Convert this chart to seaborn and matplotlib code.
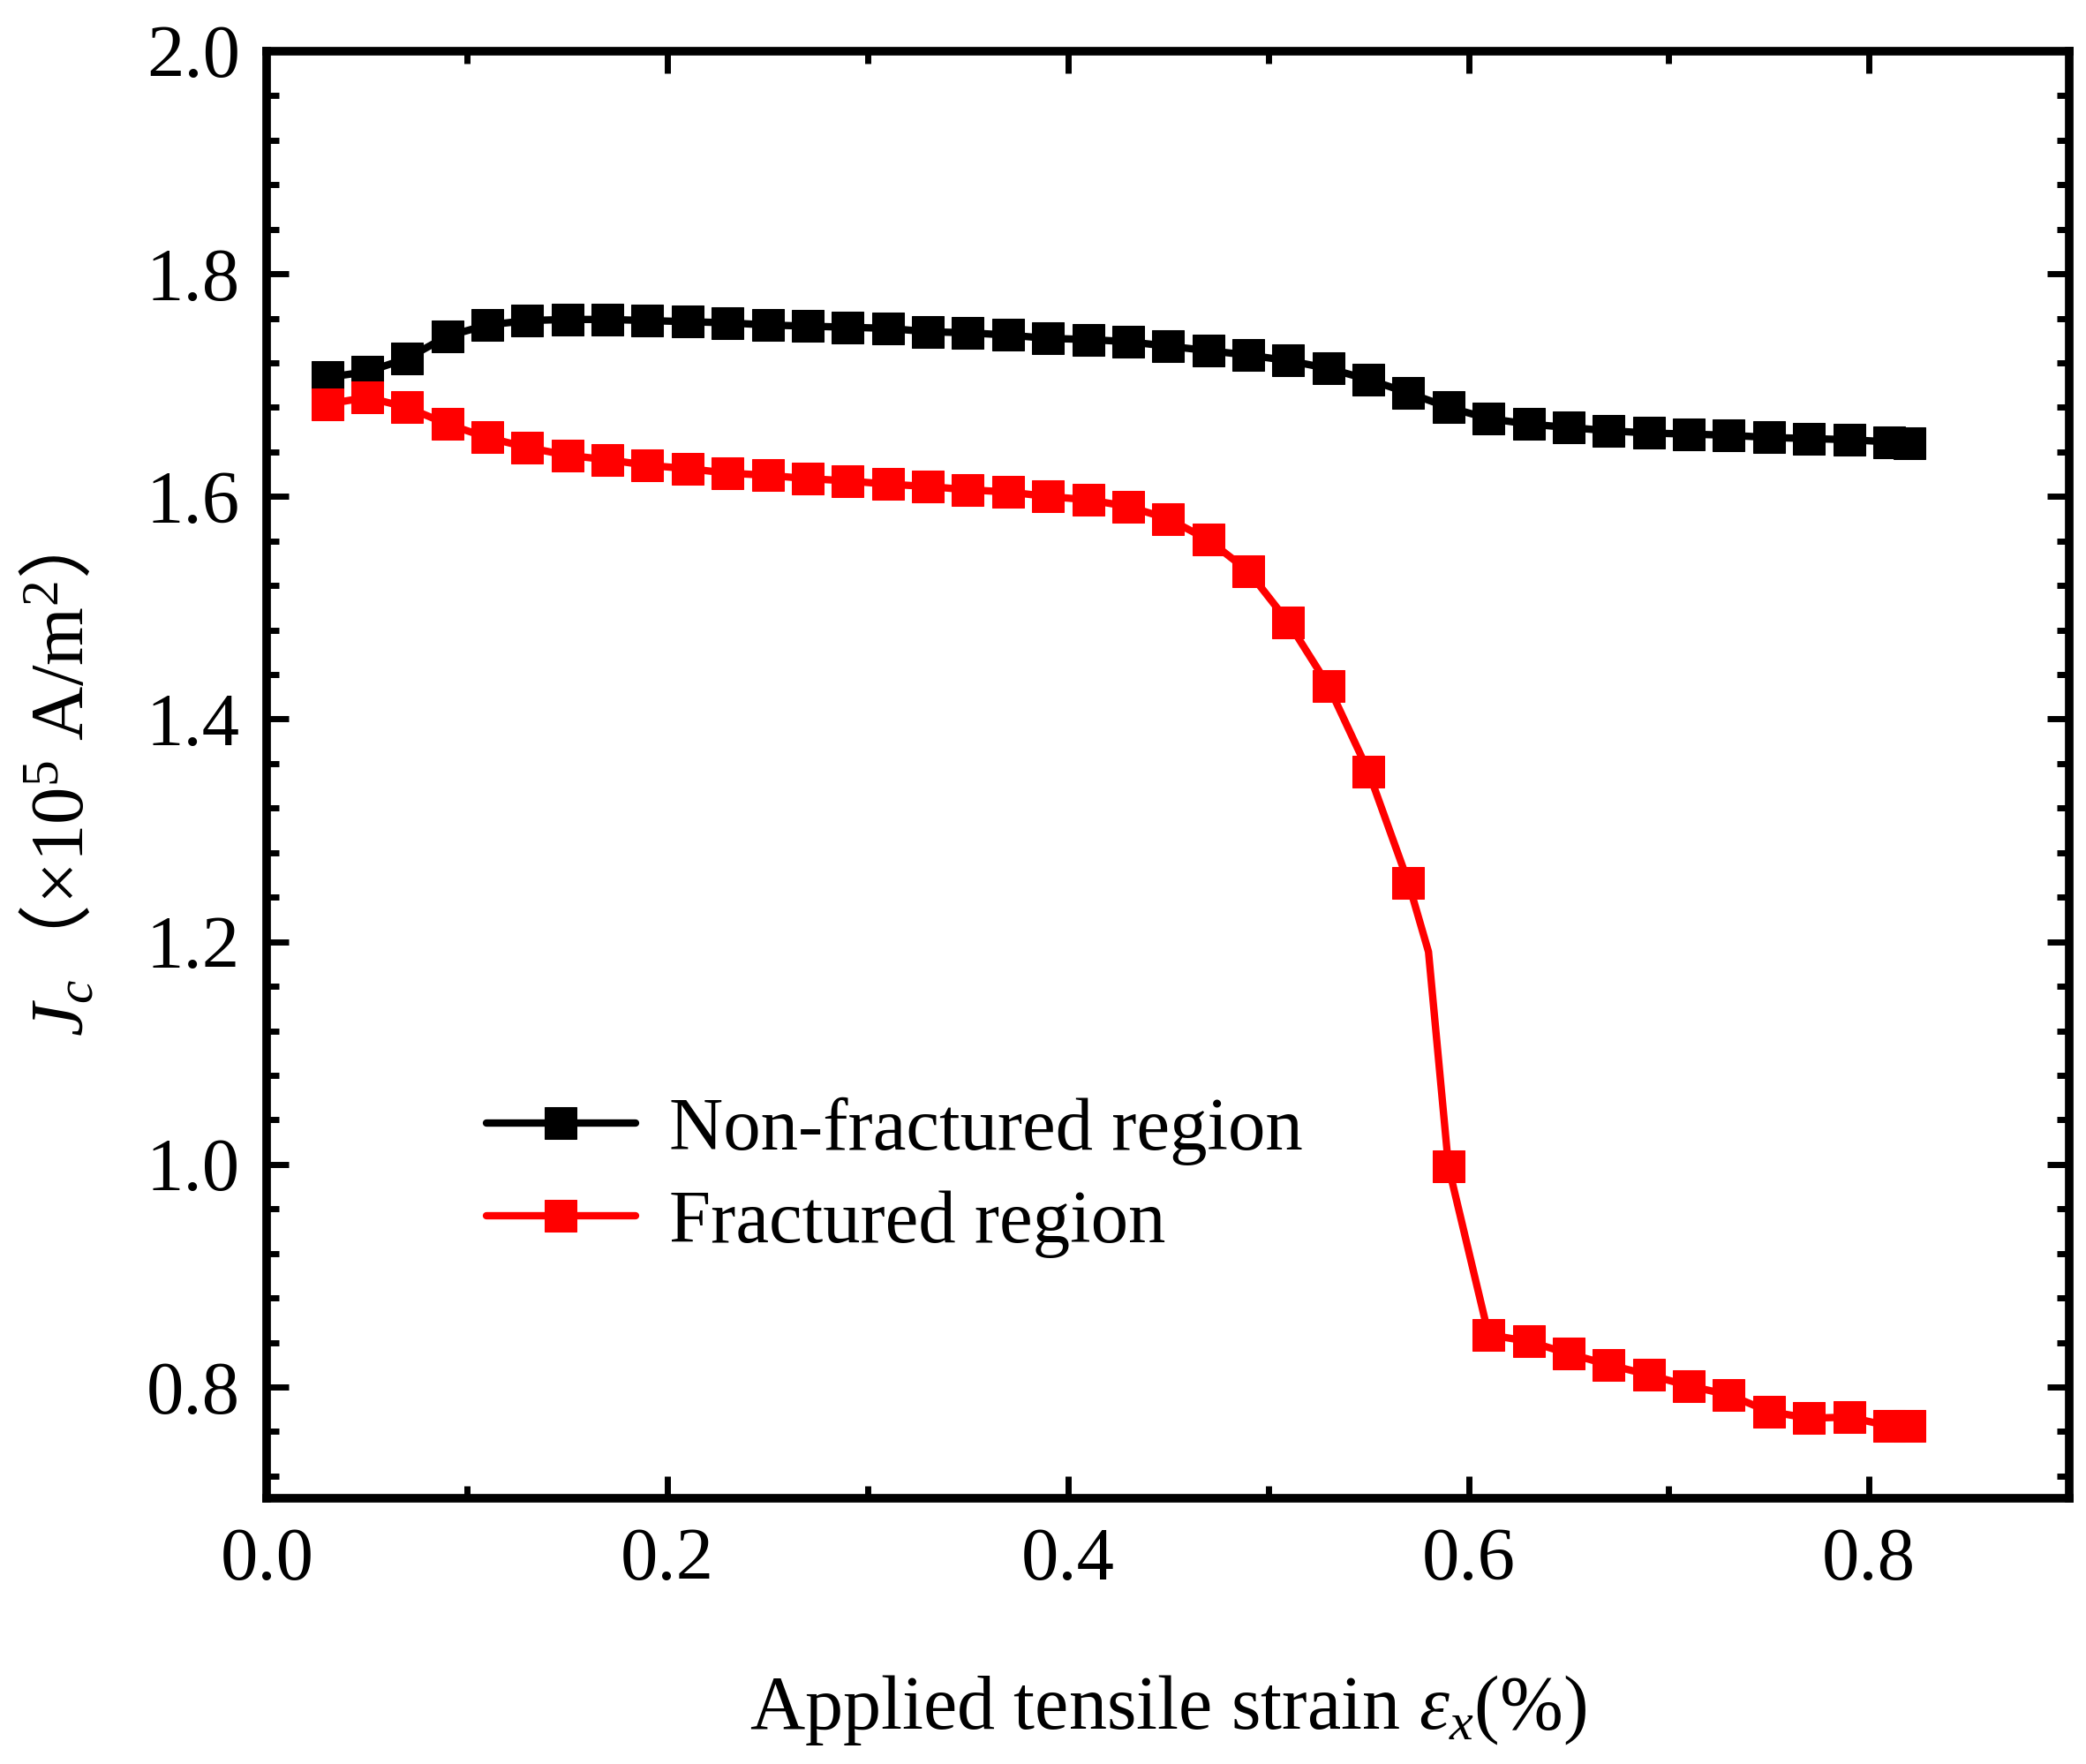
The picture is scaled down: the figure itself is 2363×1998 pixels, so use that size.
import matplotlib
matplotlib.use("Agg")
import matplotlib.pyplot as plt
from matplotlib.ticker import MultipleLocator
import seaborn as sns
import pandas as pd

sns.set_theme(style="ticks")
plt.rcParams['font.family'] = ['Liberation Serif', 'Noto Sans CJK JP', 'DejaVu Sans']
plt.rcParams['mathtext.fontset'] = 'custom'
plt.rcParams['mathtext.rm'] = 'Liberation Serif'
plt.rcParams['mathtext.it'] = 'Liberation Serif:italic'
plt.rcParams['mathtext.sf'] = 'Noto Sans CJK JP'   # used only for the full-width brackets
for key in ['text.color', 'axes.labelcolor', 'xtick.color', 'ytick.color', 'axes.edgecolor']:
    plt.rcParams[key] = 'black'

# strain values (%)
strain = [0.03, 0.05, 0.07, 0.09, 0.11, 0.13, 0.15, 0.17, 0.19, 0.21,
          0.23, 0.25, 0.27, 0.29, 0.31, 0.33, 0.35, 0.37, 0.39, 0.41,
          0.43, 0.45, 0.47, 0.49, 0.51, 0.53, 0.55, 0.57, 0.59, 0.61,
          0.63, 0.65, 0.67, 0.69, 0.71, 0.73, 0.75, 0.77, 0.79, 0.81, 0.82]

jc_intact = [1.707, 1.712, 1.724, 1.744, 1.754, 1.758, 1.759, 1.759, 1.758, 1.757,
             1.756, 1.754, 1.753, 1.752, 1.751, 1.748, 1.747, 1.745, 1.742, 1.741,
             1.739, 1.735, 1.731, 1.727, 1.722, 1.715, 1.705, 1.693, 1.680, 1.670,
             1.665, 1.662, 1.659, 1.657, 1.656, 1.655, 1.653, 1.652, 1.651, 1.649, 1.648]

# fractured region, with one extra line-only point at 0.58
strain_frac = strain[:28] + [0.58] + strain[28:]
jc_frac = [1.683, 1.689, 1.680, 1.665, 1.653, 1.644, 1.637, 1.633, 1.628, 1.625,
           1.621, 1.619, 1.616, 1.614, 1.611, 1.609, 1.606, 1.604, 1.600, 1.597,
           1.591, 1.580, 1.561, 1.533, 1.487, 1.430, 1.353, 1.253, 1.191, 0.998,
           0.847, 0.841, 0.830, 0.820, 0.811, 0.801, 0.793, 0.778, 0.772, 0.773,
           0.765, 0.765]
frac_marked = [x != 0.58 for x in strain_frac]

ylabel_text = r'$J_c\mathsf{（}\mathrm{×10^5\ A/m^2}\mathsf{）}$'
xlabel_text = r'Applied tensile strain $\varepsilon_x$(%)'

df_intact = pd.DataFrame({'strain': strain, 'jc': jc_intact})
df_frac = pd.DataFrame({'strain': strain_frac, 'jc': jc_frac})

fig = plt.figure(figsize=(23.63, 19.98), dpi=100)
ax = fig.add_axes([0.128, 0.1506, 0.864, 0.8204])

sns.lineplot(data=df_intact, x='strain', y='jc', ax=ax, color='black',
             marker='s', markersize=26, markeredgecolor='black', linewidth=6,
             label='Non-fractured region', errorbar=None, sort=True)
sns.lineplot(data=df_frac, x='strain', y='jc', ax=ax, color='#ff0000',
             marker='s', markersize=26, markeredgecolor='#ff0000', linewidth=6,
             markevery=frac_marked, label='Fractured region', errorbar=None, sort=True)

ax.set_xlim(0, 0.9)
ax.set_ylim(0.7, 2.0)
ax.xaxis.set_major_locator(MultipleLocator(0.2))
ax.xaxis.set_minor_locator(MultipleLocator(0.1))
ax.yaxis.set_major_locator(MultipleLocator(0.2))
ax.yaxis.set_minor_locator(MultipleLocator(0.04))
ax.tick_params(which='both', direction='in', top=True, right=True, width=5, color='black')
ax.tick_params(which='major', length=18, labelsize=61)
ax.tick_params(axis='x', which='major', pad=24)
ax.tick_params(axis='y', which='major', pad=22)
ax.tick_params(which='minor', length=10)
for sp in ax.spines.values():
    sp.set_linewidth(7)
    sp.set_color('black')

ax.set_xlabel(xlabel_text, fontsize=62, labelpad=63)
ax.set_ylabel(ylabel_text, fontsize=61)
ax.yaxis.set_label_coords(-0.093, 0.486)

ax.legend(loc='upper left', bbox_to_anchor=(0.105, 0.298), frameon=False,
          fontsize=61, handlelength=2.0, handletextpad=0.45, labelspacing=0.33,
          borderaxespad=0)

fig.savefig('out.png', dpi=100)
